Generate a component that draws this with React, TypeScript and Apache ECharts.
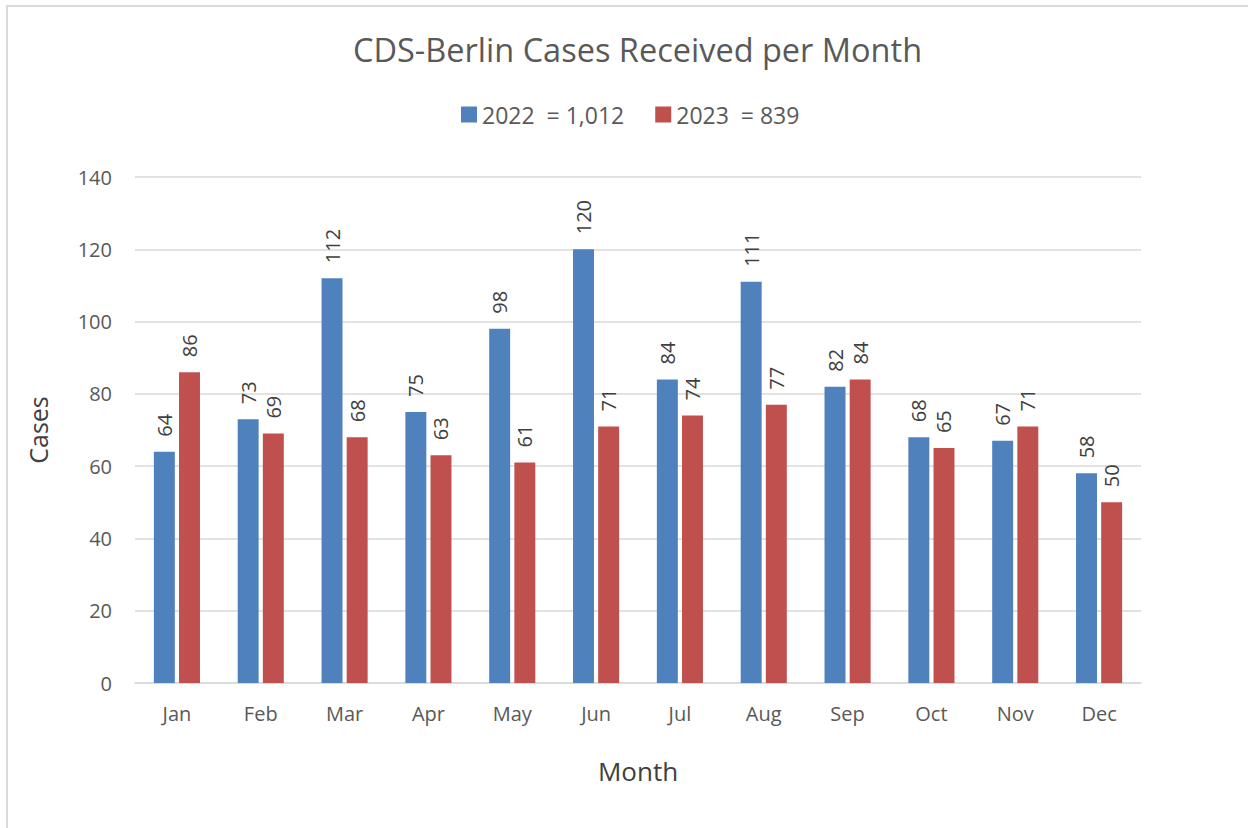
import React, { useEffect, useRef } from "react";
import * as echarts from "echarts";

const months = ["Jan", "Feb", "Mar", "Apr", "May", "Jun", "Jul", "Aug", "Sep", "Oct", "Nov", "Dec"];
const cases2022 = [64, 73, 112, 75, 98, 120, 84, 111, 82, 68, 67, 58];
const cases2023 = [86, 69, 68, 63, 61, 71, 74, 77, 84, 65, 71, 50];
const seriesNames = ["2022  = 1,012", "2023  = 839"];
const titleText = "CDS-Berlin Cases Received per Month";

const FONT = "'Open Sans', 'Noto Sans', sans-serif";

export default function App() {
  const ref = useRef<HTMLDivElement>(null);
  useEffect(() => {
    const chart = echarts.init(ref.current!, null, { renderer: "svg" });
    const label = {
      show: true,
      position: "top" as const,
      rotate: 90,
      align: "left" as const,
      verticalAlign: "middle" as const,
      distance: 15,
      color: "#404040",
      fontSize: 20,
      fontFamily: FONT,
    };
    chart.setOption({
      animation: false,
      backgroundColor: "#fff",
      textStyle: { fontFamily: FONT },
      graphic: [
        {
          type: "rect",
          shape: { x: 7, y: 6, width: 1260, height: 840 },
          style: { fill: "none", stroke: "#d9d9d9", lineWidth: 2 },
          silent: true,
        },
      ],
      title: {
        text: titleText,
        left: 348,
        top: 28,
        textStyle: { fontSize: 32.5, fontWeight: "normal", color: "#595959", fontFamily: FONT },
      },
      legend: {
        top: 98,
        left: 456,
        itemWidth: 16,
        itemHeight: 16,
        itemGap: 31,
        icon: "rect",
        textStyle: { fontSize: 23, color: "#595959", fontFamily: FONT },
        data: seriesNames,
      },
      grid: { left: 135, right: 107, top: 177, bottom: 145, containLabel: false },
      xAxis: {
        type: "category",
        data: months,
        name: "Month",
        nameLocation: "middle",
        nameGap: 75,
        nameTextStyle: { fontSize: 26, color: "#404040", fontFamily: FONT },
        axisLine: { lineStyle: { color: "#d9d9d9", width: 1.5 } },
        axisTick: { show: false },
        axisLabel: { fontSize: 20, color: "#595959", margin: 20, fontFamily: FONT },
      },
      yAxis: {
        type: "value",
        min: 0,
        max: 140,
        interval: 20,
        name: "Cases",
        nameLocation: "middle",
        nameGap: 85,
        nameTextStyle: { fontSize: 25, color: "#404040", fontFamily: FONT },
        axisLine: { show: false },
        axisTick: { show: false },
        axisLabel: { fontSize: 20, color: "#595959", margin: 23, fontFamily: FONT },
        splitLine: { lineStyle: { color: "#d9d9d9", width: 1.5 } },
      },
      series: [
        {
          name: seriesNames[0],
          type: "bar",
          data: cases2022,
          barWidth: "25%",
          barGap: "20%",
          itemStyle: { color: "#4f81bd" },
          label,
        },
        {
          name: seriesNames[1],
          type: "bar",
          data: cases2023,
          barWidth: "25%",
          itemStyle: { color: "#c0504d" },
          label,
        },
      ],
    });
    return () => chart.dispose();
  }, []);
  return <div ref={ref} style={{ width: 1248, height: 828, position: "absolute", left: 0, top: 0 }} />;
}
